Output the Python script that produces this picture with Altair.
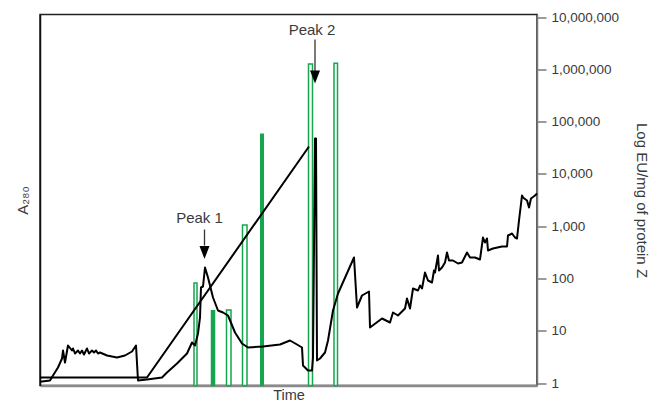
import altair as alt
import pandas as pd

# A280 trace (arbitrary time units / arbitrary absorbance units)
trace_t = [0,2,10,13,18,22,23,25,28,32,33,35,38,40,42,44,47,49,52,54,56,58,60,67,77,85,92,96,98,107,
           122,127,137,147,152,155,158,160,161,163,165,168,173,178,183,188,195,202,208,223,240,250,257,262,263,268,272,273,275,276,
           277,280,285,288,293,298,314,317,322,329,330,342,350,353,358,365,367,370,373,378,380,382,385,388,392,394,395,398,399,402,
           405,407,409,413,418,422,427,430,435,440,443,445,447,448,453,462,467,468,472,475,477,479,482,483,487,489,491,495,497]
trace_a = [4,4,5,10,18,27,35,23,40,35,37,32,35,32,35,31,37,32,35,33,35,32,33,30,28,30,34,40,5,6,
           8,13,22,32,43,40,52,68,98,99,118,108,88,75,73,70,53,42,38,39,41,45,41,38,20,15,15,28,247,247,
           25,27,33,45,75,92,128,78,90,94,58,67,63,73,70,77,87,77,97,95,100,97,113,105,103,115,113,130,115,118,
           123,133,125,125,122,123,133,128,128,126,148,143,147,135,137,139,139,150,152,148,147,165,190,188,185,178,187,190,192]

# salt gradient line
ramp_t = [0, 107, 269]
ramp_a = [8, 8, 239]

# EU/mg fractions (log scale)
bar_start = [154, 171.5, 186.5, 202.5, 220.75, 268.5, 294]
bar_end = [157, 174.5, 191, 207, 223.25, 272.5, 297.5]
bar_value = [82, 24, 25, 1050, 57000, 1260000, 1310000]
bar_kind = ["hollow", "solid", "hollow", "hollow", "solid", "hollow", "hollow"]

# annotations
peak_label = ["Peak 1", "Peak 2"]
peak_text_t = [159.5, 272]
peak_text_a = [163, 351]
arrow_t = [164.5, 275]
arrow_top = [156, 346]
arrow_bottom = [140, 309]
arrow_head_a = [133, 308.5]

log_ticks = [1, 10, 100, 1000, 10000, 100000, 1000000, 10000000]

GREEN = "#15a64e"
FONT = "Liberation Sans"
TXT = "#3a3a3a"

lines_df = pd.DataFrame({
    "t": trace_t + ramp_t,
    "a": trace_a + ramp_a,
    "series": ["A280"] * len(trace_t) + ["gradient"] * len(ramp_t),
    "idx": list(range(len(trace_t))) + list(range(len(ramp_t))),
})
bars_df = pd.DataFrame({"t0": bar_start, "t1": bar_end, "v": bar_value, "kind": bar_kind})
peaks_df = pd.DataFrame({
    "label": peak_label, "tt": peak_text_t, "ta": peak_text_a,
    "at": arrow_t, "a0": arrow_top, "a1": arrow_bottom, "ah": arrow_head_a,
})

xscale = alt.Scale(domain=[0, 497], nice=False, zero=False)
ylin = alt.Scale(domain=[0, 371], nice=False, zero=False)
ylog = alt.Scale(type="log", domain=[0.896, 11170000], nice=False)

x_enc = alt.X("t0:Q", scale=xscale,
              axis=alt.Axis(title="Time", labels=False, ticks=False, grid=False,
                            domainColor="#8a8a8a", domainWidth=2.5,
                            titleBaseline="alphabetic", titleY=13.5,
                            titleFont=FONT, titleFontSize=14.5, titleFontWeight="normal",
                            titleColor=TXT))

bars = alt.Chart(bars_df).mark_bar(stroke=GREEN, strokeWidth=1.5).encode(
    x=x_enc,
    x2="t1:Q",
    y=alt.Y("v:Q", scale=ylog,
            axis=alt.Axis(orient="right", values=log_ticks, format=",d", grid=False,
                          title="Log EU/mg of protein Z", domainColor="#7a7a7a", domainWidth=1.5,
                          tickColor="#7a7a7a", tickWidth=1.5, tickSize=9, labelPadding=5,
                          labelFont=FONT, labelFontSize=13.5, labelColor=TXT,
                          titleFont=FONT, titleFontSize=15, titleFontWeight="normal",
                          titleColor=TXT, titlePadding=15)),
    y2=alt.value(371),
    fill=alt.Fill("kind:N", scale=alt.Scale(domain=["hollow", "solid"], range=["white", GREEN]),
                  legend=None),
)

left_axis = alt.Axis(orient="left", title="A₂₈₀", labels=False, ticks=False, grid=False,
                     domainColor="#111111", domainWidth=1.5, titlePadding=10,
                     titleFont=FONT, titleFontSize=15, titleFontWeight="normal", titleColor=TXT)

lines = alt.Chart(lines_df).mark_line(color="black", strokeWidth=2, strokeJoin="round").encode(
    x=alt.X("t:Q", scale=xscale),
    y=alt.Y("a:Q", scale=ylin, axis=left_axis),
    detail="series:N",
    order="idx:Q",
)

texts = alt.Chart(peaks_df).mark_text(font=FONT, fontSize=15, color=TXT, baseline="alphabetic").encode(
    x=alt.X("tt:Q", scale=xscale),
    y=alt.Y("ta:Q", scale=ylin),
    text="label:N",
)
rules = alt.Chart(peaks_df).mark_rule(color="#333333", strokeWidth=1.3).encode(
    x=alt.X("at:Q", scale=xscale),
    y=alt.Y("a0:Q", scale=ylin),
    y2="a1:Q",
)
heads = alt.Chart(peaks_df).mark_point(shape="M-1,-1.3L1,-1.3L0,1.3Z", size=100, filled=True,
                                       color="black", opacity=1).encode(
    x=alt.X("at:Q", scale=xscale),
    y=alt.Y("ah:Q", scale=ylin),
)

inner = alt.layer(lines, rules, heads, texts)

chart = alt.layer(bars, inner).resolve_scale(y="independent").properties(
    width=497, height=371,
    autosize=alt.AutoSizeParams(type="none"),
    padding={"left": 32, "top": 6.5, "right": 114, "bottom": 16.5},
).configure_view(stroke="#222222", strokeWidth=1.5)

chart.save("out.html", embed_options={"renderer": "svg", "actions": False})
